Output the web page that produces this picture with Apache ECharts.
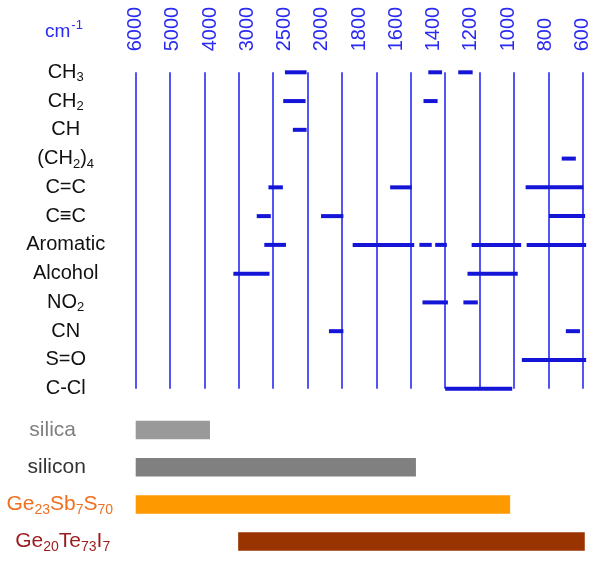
<!DOCTYPE html>
<html>
<head>
<meta charset="utf-8">
<script src="https://cdn.jsdelivr.net/npm/echarts@6/dist/echarts.min.js"></script>
<style>
  html, body { margin: 0; padding: 0; background: #fff; }
  #chart { width: 593px; height: 561px; }
</style>
</head>
<body>
<div id="chart"></div>
<script>
// wavenumber tick labels (equally spaced along the top)
const wavenumbers = ['6000', '5000', '4000', '3000', '2500', '2000', '1800', '1600', '1400', '1200', '1000', '800', '600'];

// functional groups, top to bottom (rich text for subscripts)
const groups = ['CH{s|3}', 'CH{s|2}', 'CH', '(CH{s|2}){s|4}', 'C=C', 'C\u2261C', 'Aromatic', 'Alcohol', 'NO{s|2}', 'CN', 'S=O', 'C-Cl'];

// absorption bands: [group index, from, to] in grid-line units (0 = first line, 13 = last)
const bands = [
    [0, 4.34, 4.97], [0, 8.51, 8.91], [0, 9.38, 9.80],
    [1, 4.29, 4.94], [1, 8.37, 8.78],
    [2, 4.57, 4.97],
    [3, 12.39, 12.80],
    [4, 3.86, 4.28], [4, 7.40, 8.03], [4, 11.34, 13.02],
    [5, 3.52, 3.93], [5, 5.39, 6.04], [5, 12.02, 13.07],
    [6, 3.74, 4.37], [6, 6.31, 8.10], [6, 8.25, 8.61], [6, 8.71, 9.05], [6, 9.77, 11.21], [6, 11.37, 13.10],
    [7, 2.84, 3.89], [7, 9.65, 11.11],
    [8, 8.34, 9.08], [8, 9.53, 9.95],
    [9, 5.62, 6.04], [9, 12.51, 12.92],
    [10, 11.23, 13.10],
    [11, 9.00, 10.95],
];

// transmission windows of the materials
const materials = ['{g|silica}', '{k|silicon}', '{o|Ge}{os|23}{o|Sb}{os|7}{o|S}{os|70}', '{r0|Ge}{rs|20}{r|Te}{rs|73}{r|I}{rs|7}'];
const materialFrom = [0, 0, 0, 2.98];
const materialTo = [2.16, 8.15, 10.89, 13.06];
const materialColors = ['#999999', '#808080', '#ff9900', '#993300'];

const FONT = 'Liberation Sans, Arial, sans-serif';
const BLUE = '#2a2af0';

const chart = echarts.init(document.getElementById('chart'));

chart.setOption({
    animation: false,
    backgroundColor: '#fff',
    textStyle: { fontFamily: FONT },
    title: {
        text: '{a|cm}{b|-1}',
        left: 40,
        top: 11,
        textStyle: {
            fontWeight: 'normal',
            rich: {
                a: { fontSize: 19, color: BLUE, fontFamily: FONT, fontWeight: 'normal', padding: [6, 0, 0, 0] },
                b: { fontSize: 13, color: BLUE, fontFamily: FONT, fontWeight: 'normal', padding: [0, 0, 6, 1] },
            },
        },
    },
    grid: [
        { left: 135.7, right: 10.3, top: 72.3, height: 316.4 },
        { left: 135.7, right: 10.3, top: 411.4, height: 148.8 },
    ],
    xAxis: [
        {
            gridIndex: 0, type: 'value', min: 0, max: 13, interval: 1,
            axisLine: { show: false }, axisTick: { show: false }, axisLabel: { show: false },
            splitLine: { show: true, lineStyle: { color: BLUE, width: 1.6 } },
        },
        {
            gridIndex: 0, type: 'category', position: 'top', data: wavenumbers, boundaryGap: false,
            axisLine: { show: false }, axisTick: { show: false }, splitLine: { show: false },
            axisLabel: { interval: 0, rotate: -90, margin: 21, color: BLUE, fontSize: 20, fontFamily: FONT },
        },
        {
            gridIndex: 1, type: 'value', min: 0, max: 13, show: false,
        },
    ],
    yAxis: [
        {
            gridIndex: 0, type: 'value', min: 0, max: 11, interval: 1, inverse: true,
            axisLine: { show: false }, axisTick: { show: false }, splitLine: { show: false },
            axisLabel: {
                margin: 70, align: 'center', color: '#111', fontSize: 20, fontFamily: FONT,
                formatter: (v) => groups[v] || '',
                rich: { s: { fontSize: 13, color: '#111', fontFamily: FONT, padding: [11, 0, 0, 0] } },
            },
        },
        {
            gridIndex: 1, type: 'category', data: materials, inverse: true,
            axisLine: { show: false }, axisTick: { show: false }, splitLine: { show: false },
            axisLabel: {
                margin: 76, align: 'center', fontSize: 21, fontFamily: FONT,
                rich: {
                    g: { fontSize: 21, color: '#7f7f7f', fontFamily: FONT, padding: [0, 14, 0, 0] },
                    k: { fontSize: 21, color: '#333333', fontFamily: FONT, padding: [0, 6, 0, 0] },
                    o: { fontSize: 21, color: '#f07020', fontFamily: FONT },
                    os: { fontSize: 14, color: '#f07020', fontFamily: FONT, padding: [11, 0, 0, 0] },
                    r0: { fontSize: 21, color: '#9b1c1c', fontFamily: FONT, padding: [0, 0, 0, 6] },
                    r: { fontSize: 21, color: '#9b1c1c', fontFamily: FONT },
                    rs: { fontSize: 14, color: '#9b1c1c', fontFamily: FONT, padding: [11, 0, 0, 0] },
                },
            },
        },
    ],
    series: [
        {
            type: 'custom',
            xAxisIndex: 0,
            yAxisIndex: 0,
            data: bands,
            encode: { x: [1, 2], y: 0 },
            renderItem: (params, api) => {
                const p1 = api.coord([api.value(1), api.value(0)]);
                const p2 = api.coord([api.value(2), api.value(0)]);
                return {
                    type: 'line',
                    shape: { x1: p1[0], y1: p1[1], x2: p2[0], y2: p2[1] },
                    style: { stroke: '#1515d8', lineWidth: 4 },
                };
            },
        },
        {
            type: 'custom',
            xAxisIndex: 2,
            yAxisIndex: 1,
            data: materials.map((m, i) => [i, materialFrom[i], materialTo[i]]),
            encode: { x: [1, 2], y: 0 },
            renderItem: (params, api) => {
                const i = api.value(0);
                const p1 = api.coord([api.value(1), i]);
                const p2 = api.coord([api.value(2), i]);
                const h = 18.5;
                return {
                    type: 'rect',
                    shape: { x: p1[0], y: p1[1] - h / 2, width: p2[0] - p1[0], height: h },
                    style: { fill: materialColors[i] },
                };
            },
        },
    ],
});
</script>
</body>
</html>
